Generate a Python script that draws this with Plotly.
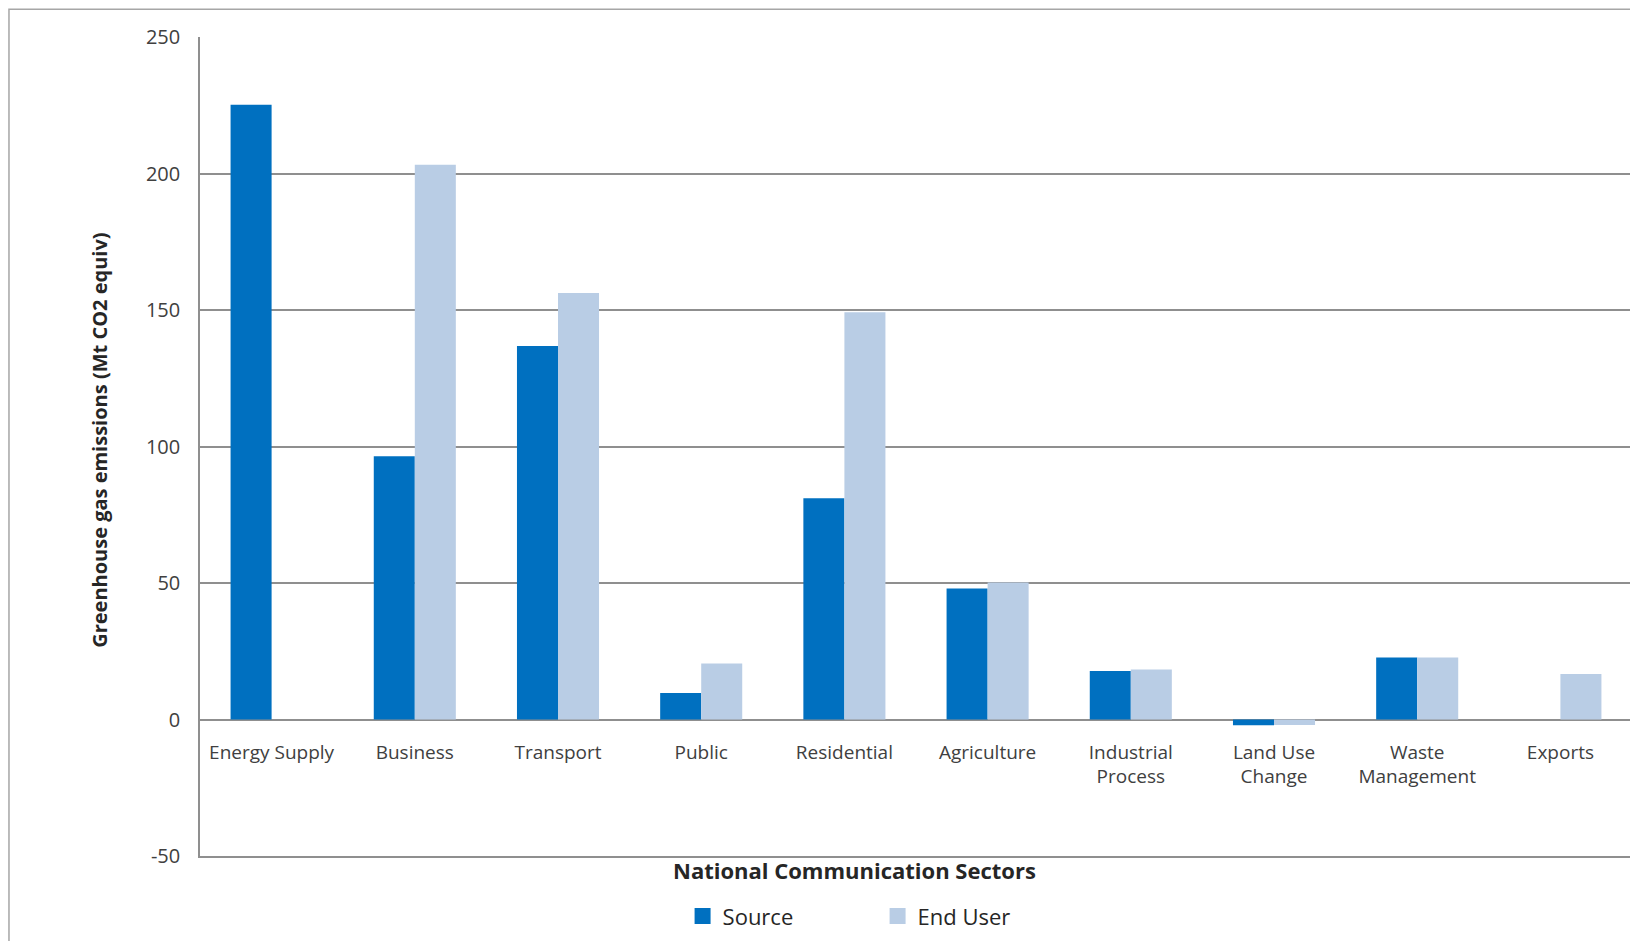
import plotly.graph_objects as go

categories = ["Energy Supply", "Business", "Transport", "Public", "Residential",
              "Agriculture", "Industrial<br>Process", "Land Use<br>Change",
              "Waste<br>Management", "Exports"]
source = [225.2, 96.4, 136.8, 9.7, 81.0, 48.0, 17.8, -2.1, 22.7, None]
end_user = [None, 203.2, 156.2, 20.5, 149.2, 50.2, 18.3, -2.0, 22.7, 16.7]
y_ticks = [-50, 0, 50, 100, 150, 200, 250]
y_tick_labels = ["-50", "0", "50", "100", "150", "200", "250"]

SRC_COLOR = "#0070C0"
END_COLOR = "#B9CDE5"
GRID = "#8f8f8f"
FONT = "Open Sans"

fig = go.Figure()
fig.add_trace(go.Bar(x=categories, y=source, name="Source", marker_color=SRC_COLOR,
                     marker_line_width=0, showlegend=False))
fig.add_trace(go.Bar(x=categories, y=end_user, name="End User", marker_color=END_COLOR,
                     marker_line_width=0, showlegend=False))
# legend entries (square swatches)
fig.add_trace(go.Scatter(x=[None], y=[None], mode="markers", name="Source",
                         marker=dict(symbol="square", size=16, color=SRC_COLOR)))
fig.add_trace(go.Scatter(x=[None], y=[None], mode="markers", name="End User",
                         marker=dict(symbol="square", size=16, color=END_COLOR)))

fig.update_layout(
    width=1630, height=933,
    margin=dict(l=192, r=6, t=29, b=85, autoexpand=False),
    paper_bgcolor="white", plot_bgcolor="white",
    barmode="group", bargap=0.427, bargroupgap=0,
    font=dict(family=FONT, color="#404040"),
    xaxis=dict(
        type="category", anchor="free", position=1/6,
        showline=False, showgrid=False, ticks="",
        tickfont=dict(family=FONT, size=19, color="#404040"),
        ticklabelstandoff=19,
    ),
    xaxis2=dict(overlaying="x", anchor="y", side="bottom", showline=True,
                linecolor=GRID, linewidth=1.5, showticklabels=False,
                showgrid=False, ticks="", zeroline=False),
    yaxis=dict(
        range=[-50, 250], tickvals=y_ticks, ticktext=y_tick_labels,
        showgrid=True, gridcolor=GRID,
        gridwidth=1.5, zeroline=True, zerolinecolor=GRID, zerolinewidth=1.5,
        showline=True, linecolor=GRID, linewidth=1.5, ticks="",
        tickfont=dict(family=FONT, size=20, color="#404040"),
        ticklabelstandoff=14,
    ),
    legend=dict(orientation="h", x=0.337, xanchor="left", y=-0.0736,
                yanchor="middle", entrywidth=150, entrywidthmode="pixels",
                font=dict(family=FONT, size=22, color="#262626"),
                bgcolor="rgba(0,0,0,0)"),
    annotations=[
        dict(text="<b>National Communication Sectors</b>", xref="paper", yref="paper",
             x=0.457, y=-0.0168, xanchor="center", yanchor="middle", showarrow=False,
             font=dict(family=FONT, size=22, color="#262626")),
        dict(text="<b>Greenhouse gas emissions (Mt CO2 equiv)</b>", xref="paper",
             yref="paper", x=-0.0698, y=0.507, xanchor="center", yanchor="middle",
             textangle=-90, showarrow=False,
             font=dict(family=FONT, size=20, color="#262626")),
    ],
    shapes=[
        dict(type="rect", xref="paper", yref="paper", x0=-0.1334, x1=1.02,
             y0=-0.12, y1=1.034, line=dict(color="#a6a6a6", width=1.5),
             fillcolor="rgba(0,0,0,0)", layer="below"),
    ],
)
# empty trace to make xaxis2 render
fig.add_trace(go.Scatter(x=[None], y=[None], xaxis="x2", showlegend=False, hoverinfo="skip"))

fig.write_html("out.html")
